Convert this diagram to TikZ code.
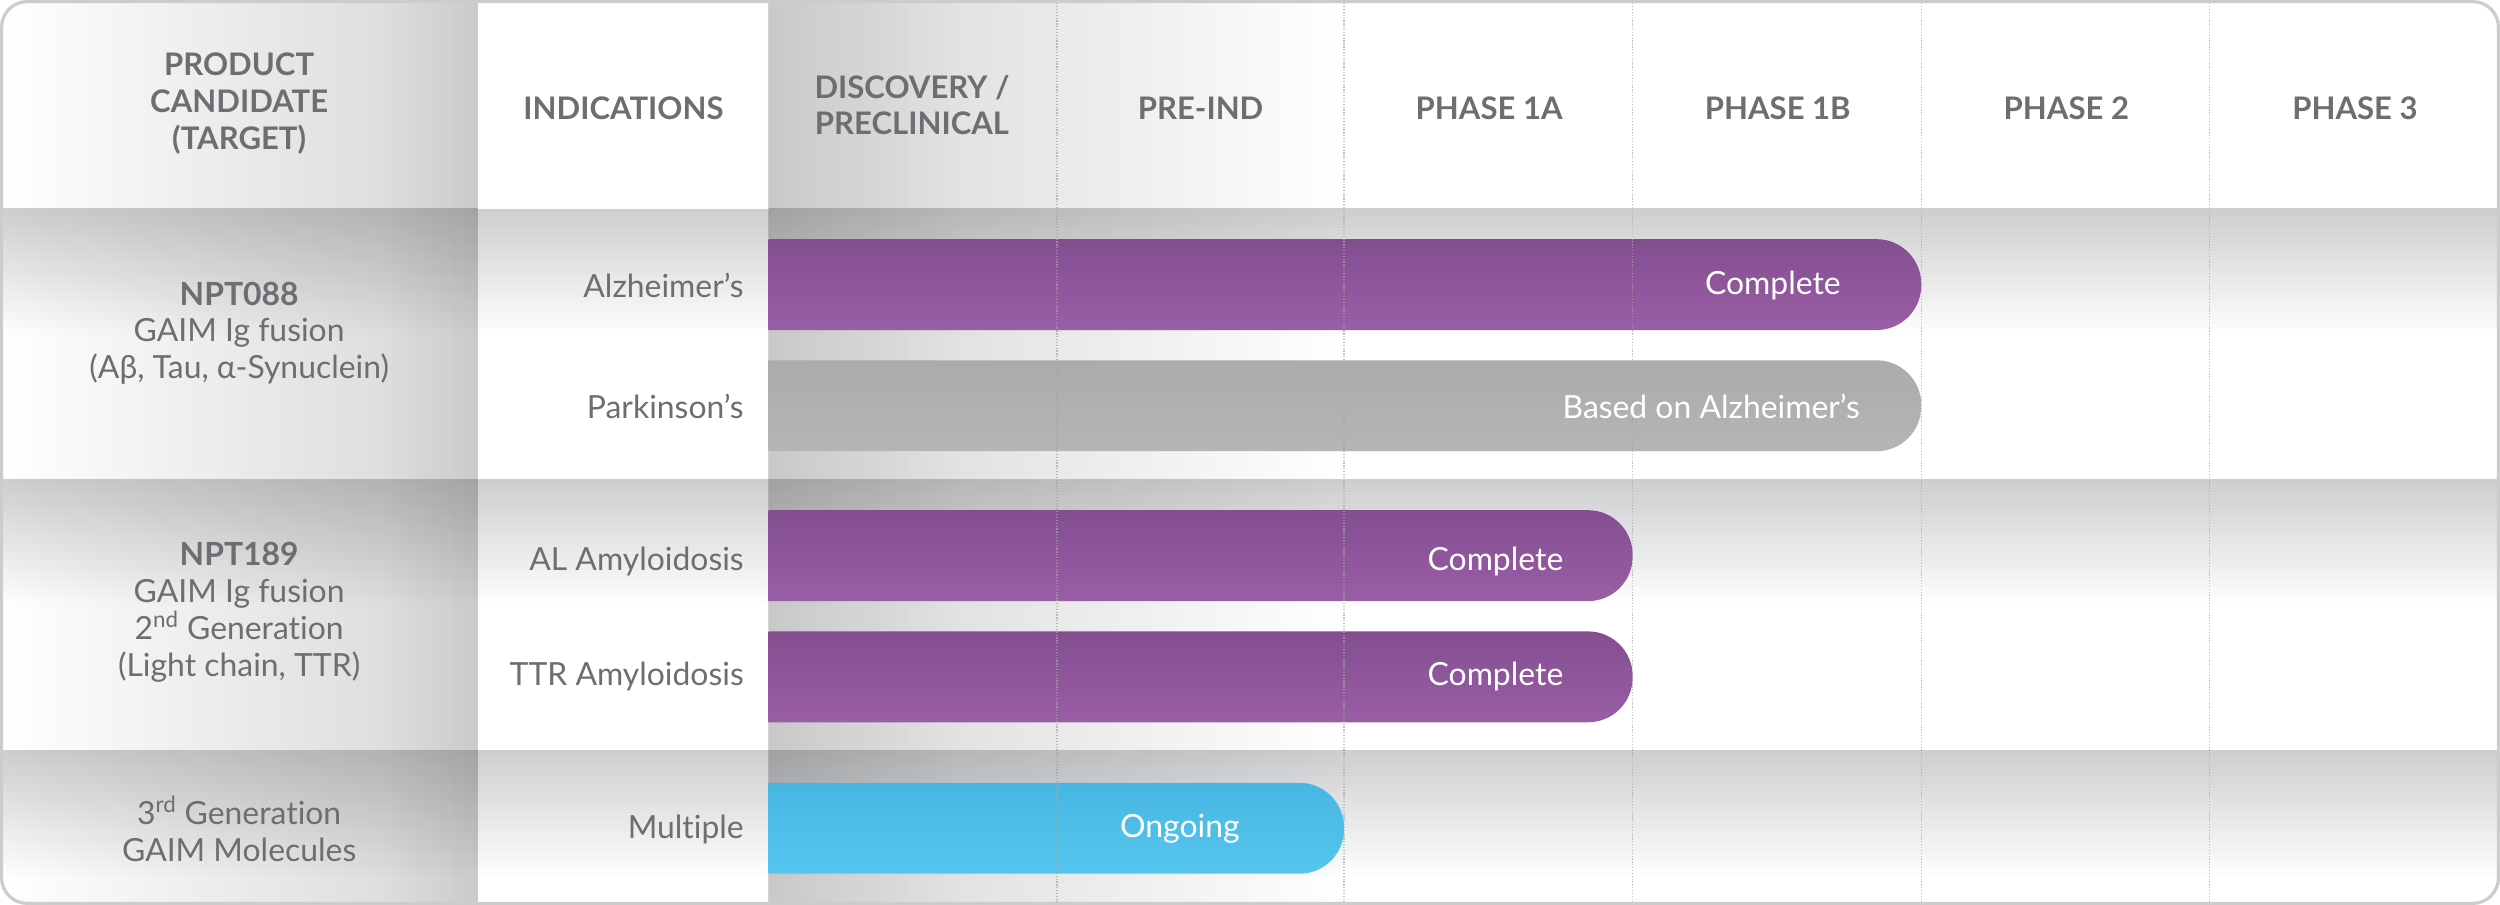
\documentclass[tikz,border=0pt]{standalone}
\usepackage{fontspec}
\setmainfont{Lato}[Ligatures={NoCommon,TeX}]
\usetikzlibrary{fadings}
\definecolor{txt}{HTML}{6D6E71}
\definecolor{band}{HTML}{CDCED0}
\definecolor{purpT}{HTML}{834E90}
\definecolor{purpB}{HTML}{9A5EA7}
\definecolor{grayT}{HTML}{ABABAB}
\definecolor{grayB}{HTML}{B5B5B5}
\definecolor{cyanT}{HTML}{47B6E0}
\definecolor{cyanB}{HTML}{56C6F0}
\begin{document}
\begin{tikzpicture}[x=1pt,y=-1pt,
  hd/.style={font=\fontsize{19.5}{23}\selectfont\bfseries, text=txt, align=center},
  bd/.style={font=\fontsize{20}{23}\selectfont, text=txt, align=center},
  ind/.style={font=\fontsize{20}{23}\selectfont, text=txt, anchor=east},
  bt/.style={font=\fontsize{20}{23}\selectfont, text=white, anchor=east},
  sep/.style={gray!70, densely dotted, line width=0.8pt}]
\useasboundingbox (0,0) rectangle (1568,567.6);
\begin{scope}
\clip[rounded corners=16] (1,1) rectangle (1567,566.6);
\fill[white] (0,0) rectangle (1568,568);
% row bands
\foreach \a/\b in {131/301,301/471,471/568}{
  \shade[top color=band, bottom color=white] (0,\a) rectangle (1568,\a+80);
}
% left column shading
\fill[black, fill opacity=0.16, path fading=west] (0,0) rectangle (300,568);
\fill[black, fill opacity=0.05, path fading=west] (240,0) rectangle (300,568);
% indications header white
\fill[white] (300,0) rectangle (482,131);
% discovery / pre-IND shading
\fill[black, fill opacity=0.17, path fading=east] (482,0) rectangle (843,568);
\fill[black, fill opacity=0.05, path fading=east] (482,0) rectangle (600,568);
\end{scope}
% bars
\shade[top color=purpT, bottom color=purpB] (482,150) [rounded corners=28] -- (1205,150) -- (1205,207) [sharp corners] -- (482,207) -- cycle;
\shade[top color=grayT, bottom color=grayB] (482,226) [rounded corners=28] -- (1205,226) -- (1205,283) [sharp corners] -- (482,283) -- cycle;
\shade[top color=purpT, bottom color=purpB] (482,320) [rounded corners=28] -- (1024,320) -- (1024,377) [sharp corners] -- (482,377) -- cycle;
\shade[top color=purpT, bottom color=purpB] (482,396) [rounded corners=28] -- (1024,396) -- (1024,453) [sharp corners] -- (482,453) -- cycle;
\shade[top color=cyanT, bottom color=cyanB] (482,491) [rounded corners=28] -- (843,491) -- (843,548) [sharp corners] -- (482,548) -- cycle;
% separators
\foreach \x in {663,843,1024,1205,1386}{
  \coordinate (s\x a) at (\x,2); \coordinate (s\x b) at (\x,566);
  \draw[sep, opacity=0.7] (s\x a) -- (s\x b);
}
% border
\draw[gray!40, line width=2pt, rounded corners=16] (1,1) rectangle (1567,566.6);
% headers
\node[hd] (h1) at (150,65) {PRODUCT\\CANDIDATE\\(TARGET)};
\node[hd] (h2) at (391,68) {INDICATIONS};
\node[hd] (h3) at (572,66) {DISCOVERY /\\PRECLINICAL};
\node[hd] (h4) at (753,68) {PRE-IND};
\node[hd] (h5) at (934,68) {PHASE 1A};
\node[hd] (h6) at (1115,68) {PHASE 1B};
\node[hd] (h7) at (1296,68) {PHASE 2};
\node[hd] (h8) at (1477,68) {PHASE 3};
% product candidates
\node[bd] (p1) at (150,209) {\textbf{NPT088}\\GAIM Ig fusion\\(Aβ, Tau, α-Synuclein)};
\node[bd] (p2) at (150,384) {\textbf{NPT189}\\GAIM Ig fusion\\2\textsuperscript{nd} Generation\\(Light chain, TTR)};
\node[bd] (p3) at (150,520) {3\textsuperscript{rd} Generation\\GAIM Molecules};
% indications
\node[ind] (i1) at (470,179) {Alzheimer’s};
\node[ind] (i2) at (470,255) {Parkinson’s};
\node[ind] (i3) at (470,352) {AL Amyloidosis};
\node[ind] (i4) at (470,424) {TTR Amyloidosis};
\node[ind] (i5) at (470,520) {Multiple};
% bar labels
\node[bt] (b1) at (1158,179) {Complete};
\node[bt] (b2) at (1170,255) {Based on Alzheimer’s};
\node[bt] (b3) at (984,352) {Complete};
\node[bt] (b4) at (984,424) {Complete};
\node[bt] (b5) at (781,520) {Ongoing};
\end{tikzpicture}
\end{document}
